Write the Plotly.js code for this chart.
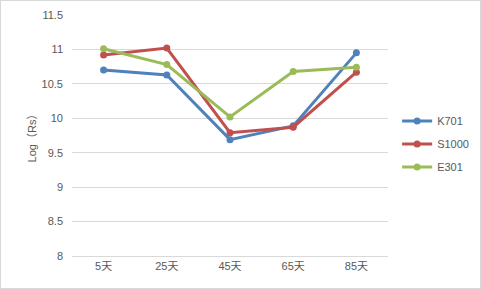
<!DOCTYPE html>
<html>
<head>
<meta charset="utf-8">
<script src="https://cdn.plot.ly/plotly-3.0.1.min.js"></script>
<style>
html,body{margin:0;padding:0;background:#fff;}
#chart{width:481px;height:289px;box-sizing:border-box;border:1px solid #d9d9d9;}
</style>
</head>
<body>
<div id="chart"></div>
<script>
const categories = ["5天", "25天", "45天", "65天", "85天"];
const k701 = [10.70, 10.63, 9.69, 9.89, 10.95];
const s1000 = [10.92, 11.02, 9.79, 9.87, 10.67];
const e301 = [11.01, 10.78, 10.02, 10.68, 10.74];
const seriesNames = ["K701", "S1000", "E301"];
const seriesColors = ["#4F81BD", "#C0504D", "#9BBB59"];
const yTicks = [8, 8.5, 9, 9.5, 10, 10.5, 11, 11.5];

const fontFam = "Liberation Sans, Noto Sans CJK SC, sans-serif";
const allSeries = [k701, s1000, e301];
const traces = allSeries.map((vals, i) => ({
  x: categories,
  y: vals,
  name: seriesNames[i],
  legendgroup: "g" + i,
  type: "scatter",
  mode: "lines+markers",
  line: {color: seriesColors[i], width: 3},
  marker: {color: seriesColors[i], size: 7}
}));

const layout = {
  width: 479, height: 287,
  margin: {l: 71, r: 92, t: 14, b: 32},
  paper_bgcolor: "#fff", plot_bgcolor: "#fff",
  font: {family: fontFam, size: 11, color: "#595959"},
  showlegend: true,
  legend: {xref: "container", yref: "container", x: 0.827, y: 0.632,
           xanchor: "left", yanchor: "top",
           font: {family: fontFam, size: 11, color: "#595959"},
           tracegroupgap: 4, itemwidth: 30},
  xaxis: {type: "category", range: [-0.5, 4.5], showgrid: false, showline: true, linecolor: "#d9d9d9",
          linewidth: 1, ticks: "", tickfont: {size: 11, color: "#595959"}, fixedrange: true},
  yaxis: {range: [8, 11.5], tickvals: yTicks, ticktext: yTicks.map(String),
          showgrid: true, gridcolor: "#d9d9d9", gridwidth: 1, zeroline: false,
          showline: false, ticks: "", ticklabelstandoff: 8,
          tickfont: {size: 11, color: "#595959"},
          title: {text: "Log（Rs）", font: {size: 11, color: "#595959"}, standoff: 2}}
};

Plotly.newPlot("chart", traces, layout, {staticPlot: true, displayModeBar: false});
</script>
</body>
</html>
